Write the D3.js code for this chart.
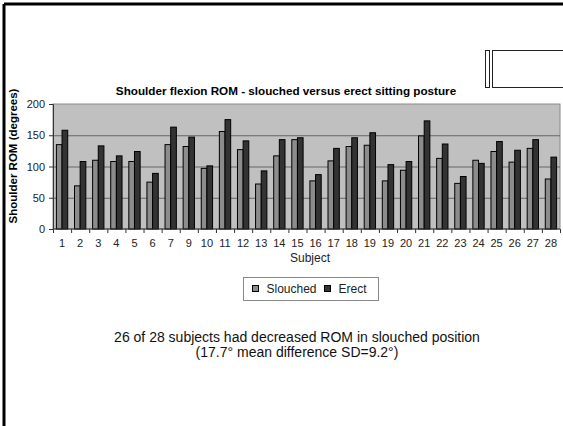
<!DOCTYPE html>
<html>
<head>
<meta charset="utf-8">
<title>Shoulder flexion ROM</title>
<script src="https://d3js.org/d3.v7.min.js"></script>
<style>
  body { margin: 0; background: #fff; }
  text { font-family: "Liberation Sans", Arial, Helvetica, sans-serif; }
</style>
</head>
<body>
<script>
// data (subject labels as printed, incl. the repeated 19)
var subjects = ["1","2","3","4","5","6","7","9","10","11","12","13","14","15","16","17","18","19","19","20","21","22","23","24","25","26","27","28"];
var slouched = [135,69,110,108,108,75,135,132,97,156,127,72,117,143,77,109,132,134,77,94,149,113,73,110,124,107,129,80];
var erect    = [158,108,133,117,124,89,163,147,101,175,141,93,143,146,87,129,146,154,103,108,173,136,84,105,140,126,143,115];
var seriesNames = ["Slouched", "Erect"];
var seriesColors = ["#8c8c8c", "#333333"];
var yTicks = [0, 50, 100, 150, 200];

var W = 563, H = 426;
var margin = {top: 104, left: 53, right: 3, bottom: 197};
var pw = W - margin.left - margin.right,
    ph = H - margin.top - margin.bottom;

var svg = d3.select("body").append("svg")
    .attr("width", W)
    .attr("height", H);

// slide frame (left and top edges)
svg.append("line").attr("x1", 4).attr("y1", 4).attr("x2", W).attr("y2", 4)
   .attr("stroke", "#000").attr("stroke-width", 3);
svg.append("line").attr("x1", 4).attr("y1", 4).attr("x2", 4).attr("y2", H)
   .attr("stroke", "#000").attr("stroke-width", 3);

// little boxes top right
svg.append("rect").attr("x", 485.5).attr("y", 50.5).attr("width", 4).attr("height", 37)
   .attr("fill", "#fff").attr("stroke", "#222").attr("stroke-width", 1);
svg.append("rect").attr("x", 492.5).attr("y", 50.5).attr("width", 80).attr("height", 37)
   .attr("fill", "#fff").attr("stroke", "#222").attr("stroke-width", 1);

var idx = d3.range(subjects.length);
var x = d3.scaleBand().domain(idx).range([0, pw]).padding(0);
var xs = d3.scaleBand().domain([0, 1]).range([0, x.bandwidth()])
    .paddingInner(0).paddingOuter(0.6);
var y = d3.scaleLinear().domain([0, 200]).range([ph, 0]);

var g = svg.append("g")
    .attr("transform", "translate(" + margin.left + "," + margin.top + ")");

// plot area
g.append("rect")
  .attr("width", pw).attr("height", ph)
  .attr("fill", "#c0c0c0")
  .attr("stroke", "#8a8a8a");

// gridlines
g.selectAll(".grid")
  .data(yTicks.slice(1, -1))
  .enter().append("line")
  .attr("class", "grid")
  .attr("x1", 0).attr("x2", pw)
  .attr("y1", function(d){ return y(d) + 0.5; })
  .attr("y2", function(d){ return y(d) + 0.5; })
  .attr("stroke", "#666");

// bars
var values = [slouched, erect];
var grp = g.selectAll(".subj")
  .data(idx)
  .enter().append("g")
  .attr("class", "subj")
  .attr("transform", function(d){ return "translate(" + x(d) + ",0)"; });

grp.selectAll("rect")
  .data(function(i){ return [0, 1].map(function(s){ return {s: s, v: values[s][i]}; }); })
  .enter().append("rect")
  .attr("x", function(d){ return xs(d.s); })
  .attr("width", xs.bandwidth())
  .attr("y", function(d){ return y(d.v); })
  .attr("height", function(d){ return ph - y(d.v); })
  .attr("fill", function(d){ return seriesColors[d.s]; })
  .attr("stroke", "#000")
  .attr("stroke-width", 1);

// y axis
var yAxis = d3.axisLeft(y).tickValues(yTicks).tickSize(4).tickPadding(4);
var ya = g.append("g").call(yAxis);
ya.select(".domain").attr("stroke", "#333");
ya.selectAll(".tick line").attr("stroke", "#333");
ya.selectAll("text").attr("font-size", 11).attr("fill", "#222")
  .style("font-family", "'Liberation Sans', Arial, sans-serif");

// x axis: ticks between categories
var xa = g.append("g").attr("transform", "translate(0," + ph + ")");
xa.append("line").attr("x1", 0).attr("x2", pw).attr("stroke", "#333");
xa.selectAll(".xt")
  .data(d3.range(subjects.length + 1))
  .enter().append("line")
  .attr("class", "xt")
  .attr("x1", function(d){ return d * x.step() + 0.5; })
  .attr("x2", function(d){ return d * x.step() + 0.5; })
  .attr("y1", 0).attr("y2", 4)
  .attr("stroke", "#333");
xa.selectAll(".xl")
  .data(idx)
  .enter().append("text")
  .attr("class", "xl")
  .attr("x", function(d){ return x(d) + x.bandwidth() / 2; })
  .attr("y", 18)
  .attr("text-anchor", "middle")
  .attr("font-size", 11)
  .attr("fill", "#222")
  .text(function(d){ return subjects[d]; });

// titles
svg.append("text")
  .attr("x", 286).attr("y", 95)
  .attr("text-anchor", "middle")
  .attr("font-size", 11.7).attr("font-weight", "bold")
  .text("Shoulder flexion ROM - slouched versus erect sitting posture");

svg.append("text")
  .attr("transform", "translate(17,156) rotate(-90)")
  .attr("text-anchor", "middle")
  .attr("font-size", 11.5).attr("font-weight", "bold")
  .text("Shoulder ROM (degrees)");

svg.append("text")
  .attr("x", 310).attr("y", 262)
  .attr("text-anchor", "middle")
  .attr("font-size", 12).attr("fill", "#222")
  .text("Subject");

// legend
var lg = svg.append("g").attr("transform", "translate(243.5,277.5)");
lg.append("rect").attr("width", 135).attr("height", 23)
  .attr("fill", "#fff").attr("stroke", "#888");
var lx = [9, 81];
seriesNames.forEach(function(n, i){
  lg.append("rect")
    .attr("x", lx[i]).attr("y", 8).attr("width", 6).attr("height", 6)
    .attr("fill", seriesColors[i]).attr("stroke", "#000");
  lg.append("text")
    .attr("x", lx[i] + 14).attr("y", 15)
    .attr("font-size", 12).attr("fill", "#222")
    .text(n);
});

// note below chart
var note = ["26 of 28 subjects had decreased ROM in slouched position",
            "(17.7\u00b0 mean difference SD=9.2\u00b0)"];
svg.selectAll(".note")
  .data(note)
  .enter().append("text")
  .attr("class", "note")
  .attr("x", 297)
  .attr("y", function(d, i){ return 342 + i * 15; })
  .attr("text-anchor", "middle")
  .attr("font-size", 14)
  .attr("fill", "#111")
  .text(function(d){ return d; });
</script>
</body>
</html>
